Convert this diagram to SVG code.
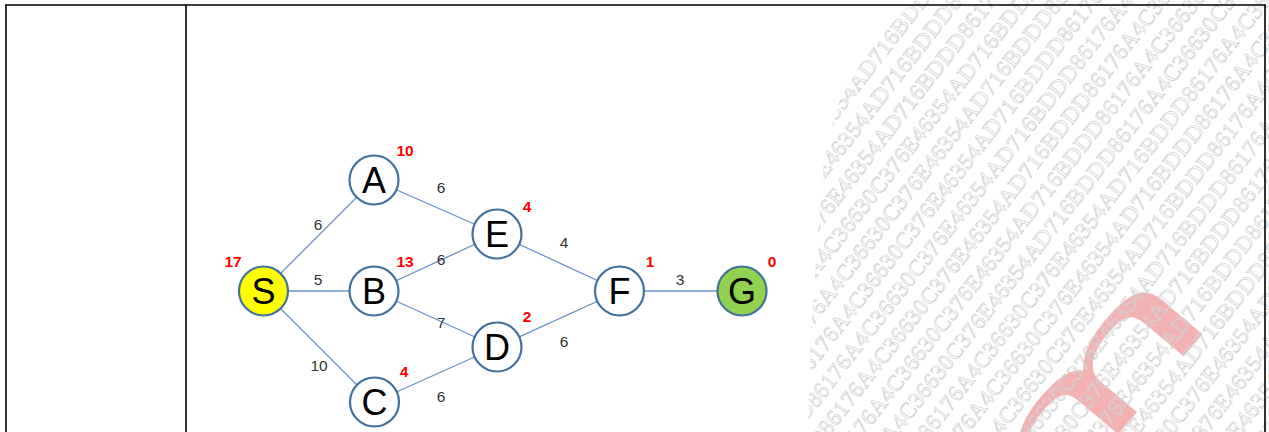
<svg xmlns="http://www.w3.org/2000/svg" width="1269" height="432" viewBox="0 0 1269 432">
<style>
.node{fill:#fff;stroke:#41719C;stroke-width:2.2}
.lbl{font-family:"Liberation Sans",Arial,sans-serif;font-size:36px;fill:#000;text-anchor:middle}
.w{font-family:"Liberation Sans",Arial,sans-serif;font-size:15.5px;fill:#333;text-anchor:middle}
.h{font-family:"Liberation Sans",Arial,sans-serif;font-size:15.5px;font-weight:bold;fill:#FF0000;text-anchor:middle}
.edge{stroke:#6A90C6;stroke-width:1.3;fill:none}
.wm{font-family:"Liberation Serif","Times New Roman",serif;font-size:23px;fill:none;stroke:#d2d2d2;stroke-width:0.7;letter-spacing:0.5px}
.border{stroke:#000;stroke-width:1.6;fill:none}
</style>
<defs>
<clipPath id="wmclip"><path d="M915,0 L1269,0 L1269,432 L808,432 L811,333 L818,233 L825,150 L840,100 L872,43 Z"/></clipPath>
</defs>
<rect width="1269" height="432" fill="#fff"/>
<g id="watermark" clip-path="url(#wmclip)">
<text transform="translate(1038,530) rotate(-50) scale(2.15,1)" font-family="Liberation Sans,Arial,sans-serif" font-size="155" fill="#F3B0B0" x="0" y="0">m</text>
<g transform="rotate(-52 1040 220)">
<text class="wm" x="690" y="-110">716BDDD86176A4C36630C376E46354AD716BDDD86176A4C36630C376E46354AD</text>
<text class="wm" x="676" y="-83">716BDDD86176A4C36630C376E46354AD716BDDD86176A4C36630C376E46354AD</text>
<text class="wm" x="662" y="-56">716BDDD86176A4C36630C376E46354AD716BDDD86176A4C36630C376E46354AD</text>
<text class="wm" x="648" y="-29">716BDDD86176A4C36630C376E46354AD716BDDD86176A4C36630C376E46354AD</text>
<text class="wm" x="634" y="-2">716BDDD86176A4C36630C376E46354AD716BDDD86176A4C36630C376E46354AD</text>
<text class="wm" x="620" y="25">716BDDD86176A4C36630C376E46354AD716BDDD86176A4C36630C376E46354AD</text>
<text class="wm" x="606" y="52">716BDDD86176A4C36630C376E46354AD716BDDD86176A4C36630C376E46354AD</text>
<text class="wm" x="692" y="79">716BDDD86176A4C36630C376E46354AD716BDDD86176A4C36630C376E46354AD</text>
<text class="wm" x="678" y="106">716BDDD86176A4C36630C376E46354AD716BDDD86176A4C36630C376E46354AD</text>
<text class="wm" x="664" y="133">716BDDD86176A4C36630C376E46354AD716BDDD86176A4C36630C376E46354AD</text>
<text class="wm" x="650" y="160">716BDDD86176A4C36630C376E46354AD716BDDD86176A4C36630C376E46354AD</text>
<text class="wm" x="636" y="187">716BDDD86176A4C36630C376E46354AD716BDDD86176A4C36630C376E46354AD</text>
<text class="wm" x="622" y="214">716BDDD86176A4C36630C376E46354AD716BDDD86176A4C36630C376E46354AD</text>
<text class="wm" x="608" y="241">716BDDD86176A4C36630C376E46354AD716BDDD86176A4C36630C376E46354AD</text>
<text class="wm" x="694" y="268">716BDDD86176A4C36630C376E46354AD716BDDD86176A4C36630C376E46354AD</text>
<text class="wm" x="680" y="295">716BDDD86176A4C36630C376E46354AD716BDDD86176A4C36630C376E46354AD</text>
<text class="wm" x="666" y="322">716BDDD86176A4C36630C376E46354AD716BDDD86176A4C36630C376E46354AD</text>
<text class="wm" x="652" y="349">716BDDD86176A4C36630C376E46354AD716BDDD86176A4C36630C376E46354AD</text>
<text class="wm" x="638" y="376">716BDDD86176A4C36630C376E46354AD716BDDD86176A4C36630C376E46354AD</text>
<text class="wm" x="624" y="403">716BDDD86176A4C36630C376E46354AD716BDDD86176A4C36630C376E46354AD</text>
<text class="wm" x="610" y="430">716BDDD86176A4C36630C376E46354AD716BDDD86176A4C36630C376E46354AD</text>
<text class="wm" x="696" y="457">716BDDD86176A4C36630C376E46354AD716BDDD86176A4C36630C376E46354AD</text>
<text class="wm" x="682" y="484">716BDDD86176A4C36630C376E46354AD716BDDD86176A4C36630C376E46354AD</text>
<text class="wm" x="668" y="511">716BDDD86176A4C36630C376E46354AD716BDDD86176A4C36630C376E46354AD</text>
<text class="wm" x="654" y="538">716BDDD86176A4C36630C376E46354AD716BDDD86176A4C36630C376E46354AD</text>
</g>
</g>
<g id="table">
<path class="border" d="M5,5 H1266 M6,5 V432 M186,5 V432 M1265,5 V432"/>
</g>
<g id="connectors">
<line class="edge" x1="263" y1="291" x2="374" y2="180"/>
<line class="edge" x1="263" y1="291" x2="374" y2="291"/>
<line class="edge" x1="263" y1="291" x2="374" y2="402"/>
<line class="edge" x1="374" y1="180" x2="497" y2="234"/>
<line class="edge" x1="374" y1="291" x2="497" y2="234"/>
<line class="edge" x1="374" y1="291" x2="497" y2="347"/>
<line class="edge" x1="374" y1="402" x2="497" y2="347"/>
<line class="edge" x1="497" y1="234" x2="620" y2="291"/>
<line class="edge" x1="497" y1="347" x2="620" y2="291"/>
<line class="edge" x1="620" y1="291" x2="742" y2="291"/>
<text class="w" x="318" y="230">6</text>
<text class="w" x="318" y="285">5</text>
<text class="w" x="319" y="370.5">10</text>
<text class="w" x="441" y="193">6</text>
<text class="w" x="441" y="265">6</text>
<text class="w" x="441" y="328">7</text>
<text class="w" x="441" y="401.5">6</text>
<text class="w" x="564" y="248">4</text>
<text class="w" x="564" y="346.5">6</text>
<text class="w" x="680" y="285">3</text>
</g>
<g id="node-S"><circle class="node" cx="263.5" cy="291" r="24.5" style="fill:#FFFF00"/><text class="lbl" x="263.5" y="304">S</text><text class="h" x="233" y="266.5">17</text></g>
<g id="node-A"><circle class="node" cx="374" cy="180" r="24.5"/><text class="lbl" x="374" y="193">A</text><text class="h" x="405" y="155.5">10</text></g>
<g id="node-B"><circle class="node" cx="374" cy="291" r="24.5"/><text class="lbl" x="374" y="304">B</text><text class="h" x="405" y="266.5">13</text></g>
<g id="node-C"><circle class="node" cx="374.5" cy="402" r="24.5"/><text class="lbl" x="374.5" y="415">C</text><text class="h" x="404" y="377">4</text></g>
<g id="node-E"><circle class="node" cx="497" cy="234" r="24.5"/><text class="lbl" x="497" y="247">E</text><text class="h" x="527" y="211.5">4</text></g>
<g id="node-D"><circle class="node" cx="497" cy="347" r="24.5"/><text class="lbl" x="497" y="360">D</text><text class="h" x="527" y="321.5">2</text></g>
<g id="node-F"><circle class="node" cx="619.5" cy="291" r="24.5"/><text class="lbl" x="619.5" y="304">F</text><text class="h" x="650" y="266.5">1</text></g>
<g id="node-G"><circle class="node" cx="742" cy="291" r="24.5" style="fill:#92D050"/><text class="lbl" x="742" y="304">G</text><text class="h" x="772" y="266.5">0</text></g>
</svg>
